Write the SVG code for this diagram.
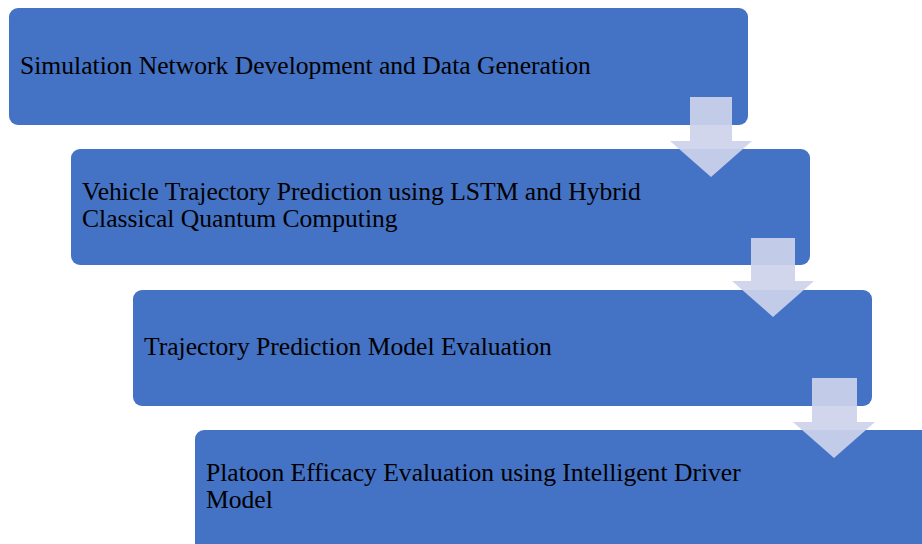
<svg xmlns="http://www.w3.org/2000/svg" width="922" height="544" viewBox="0 0 922 544">
<style>
.box{fill:#4472c4}
.t{font-family:"Liberation Serif","Times New Roman",serif;font-size:25.6px;fill:#000}
.arr{fill:#cdd3ea;fill-opacity:0.92}
</style>
<rect width="922" height="544" fill="#fff"/>
<g id="n1"><rect class="box" x="9" y="8" width="739" height="117" rx="9"/><text class="t" x="20" y="74">Simulation Network Development and Data Generation</text></g>
<g id="n2"><rect class="box" x="71" y="149" width="739" height="116" rx="9"/><text class="t" x="82" y="200">Vehicle Trajectory Prediction using LSTM and Hybrid</text><text class="t" x="82" y="227">Classical  Quantum Computing</text></g>
<g id="n3"><rect class="box" x="133" y="290" width="739" height="116" rx="9"/><text class="t" x="144" y="355">Trajectory Prediction Model Evaluation</text></g>
<g id="n4"><rect class="box" x="195" y="430" width="739" height="124" rx="9"/><text class="t" x="206" y="481">Platoon Efficacy Evaluation using Intelligent Driver</text><text class="t" x="206" y="508">Model</text></g>
<g id="connectors">
<polygon class="arr" points="690,97 732,97 732,141 752,141 711,177 670,141 690,141"/>
<polygon class="arr" points="751,238 795,238 795,281 814,281 773,317 732,281 751,281"/>
<polygon class="arr" points="812,378 857,378 857,422 875,422 834,458 793,422 812,422"/>
</g>
</svg>
